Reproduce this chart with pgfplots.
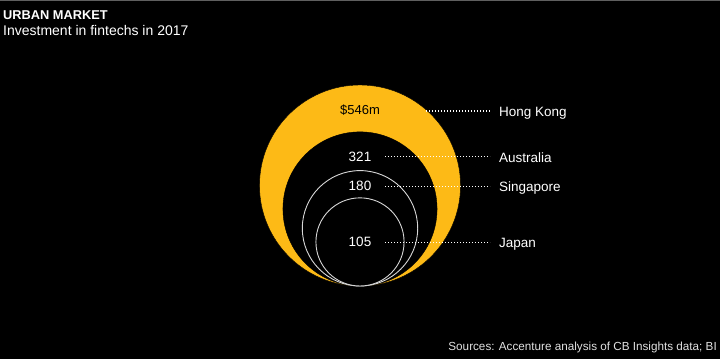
\documentclass[border=0pt]{standalone}
\usepackage{pgfplots}
\pgfplotsset{compat=1.18}
\usepackage{fontspec}
\setmainfont{Liberation Sans}
\definecolor{hky}{RGB}{253,186,22}
\definecolor{ring}{RGB}{215,215,215}
\definecolor{topline}{RGB}{95,95,95}
\definecolor{srcgray}{RGB}{225,225,225}
\pgfplotsset{base/.style={at={(0,0)},anchor=south west,
  width=720pt,height=359pt,scale only axis,
  xmin=0,xmax=720,ymin=0,ymax=359,
  hide axis, clip=false},
  leader/.style={white, line width=1.6pt, dash pattern=on 1.4pt off 1.6pt}}
\begin{document}
\begin{tikzpicture}
\begin{axis}[base]
\fill[black] (axis cs:0,0) rectangle (axis cs:720,359);
\fill[topline] (axis cs:0,357.6) rectangle (axis cs:720,359);
% circles: radius (px) = 100.5*sqrt(value/546), all touching bottom at y=73
% Hong Kong 546
\addplot[only marks, mark=*, mark size=100.5pt, mark options={fill=hky, draw=none}] coordinates {(360,173.5)};
% Australia 321
\addplot[only marks, mark=*, mark size=77.06pt, mark options={fill=black, draw=none}] coordinates {(360,150.06)};
% Singapore 180
\addplot[only marks, mark=*, mark size=57.7pt, mark options={fill=black, draw=ring, line width=0.9pt}] coordinates {(360,130.7)};
% Japan 105
\addplot[only marks, mark=*, mark size=44.07pt, mark options={fill=black, draw=ring, line width=0.9pt}] coordinates {(360,117.07)};
\end{axis}
\begin{axis}[base]
% leader lines
\addplot[leader] coordinates {(426,248) (490,248)};
\addplot[leader] coordinates {(385,202.5) (490,202.5)};
\addplot[leader] coordinates {(385,172.5) (490,172.5)};
\addplot[leader] coordinates {(385,116.5) (490,116.5)};
% value labels
\node[anchor=base, inner sep=0pt, text=black, font=\fontsize{13}{15}\selectfont] at (axis cs:360,244) {\$546m};
\node[anchor=base, inner sep=0pt, text=white, font=\fontsize{13.5}{15}\selectfont] at (axis cs:360,197.3) {321};
\node[anchor=base, inner sep=0pt, text=white, font=\fontsize{13.5}{15}\selectfont] at (axis cs:360,168) {180};
\node[anchor=base, inner sep=0pt, text=white, font=\fontsize{13.5}{15}\selectfont] at (axis cs:360,112.3) {105};
% country labels
\node[anchor=base west, inner sep=0pt, text=white, font=\fontsize{13.5}{16}\selectfont] at (axis cs:499,242.3) {Hong Kong};
\node[anchor=base west, inner sep=0pt, text=white, font=\fontsize{13.5}{16}\selectfont] at (axis cs:499,196.7) {Australia};
\node[anchor=base west, inner sep=0pt, text=white, font=\fontsize{13.5}{16}\selectfont] at (axis cs:499,167.3) {Singapore};
\node[anchor=base west, inner sep=0pt, text=white, font=\fontsize{13.5}{16}\selectfont] at (axis cs:499,111.3) {Japan};
% titles
\node[anchor=base west, inner sep=0pt, text=white, font=\bfseries\fontsize{12.8}{15}\selectfont] at (axis cs:3,339) {URBAN MARKET};
\node[anchor=base west, inner sep=0pt, text=white, font=\fontsize{14}{16}\selectfont] at (axis cs:3,323) {Investment in fintechs in 2017};
\node[anchor=base east, inner sep=0pt, text=srcgray, font=\fontsize{11.7}{14}\selectfont] at (axis cs:717,8.3) {Sources: Accenture analysis of CB Insights data; BI};
\end{axis}
\pgfresetboundingbox
\useasboundingbox (0,0) rectangle (720pt,359pt);
\end{tikzpicture}
\end{document}
